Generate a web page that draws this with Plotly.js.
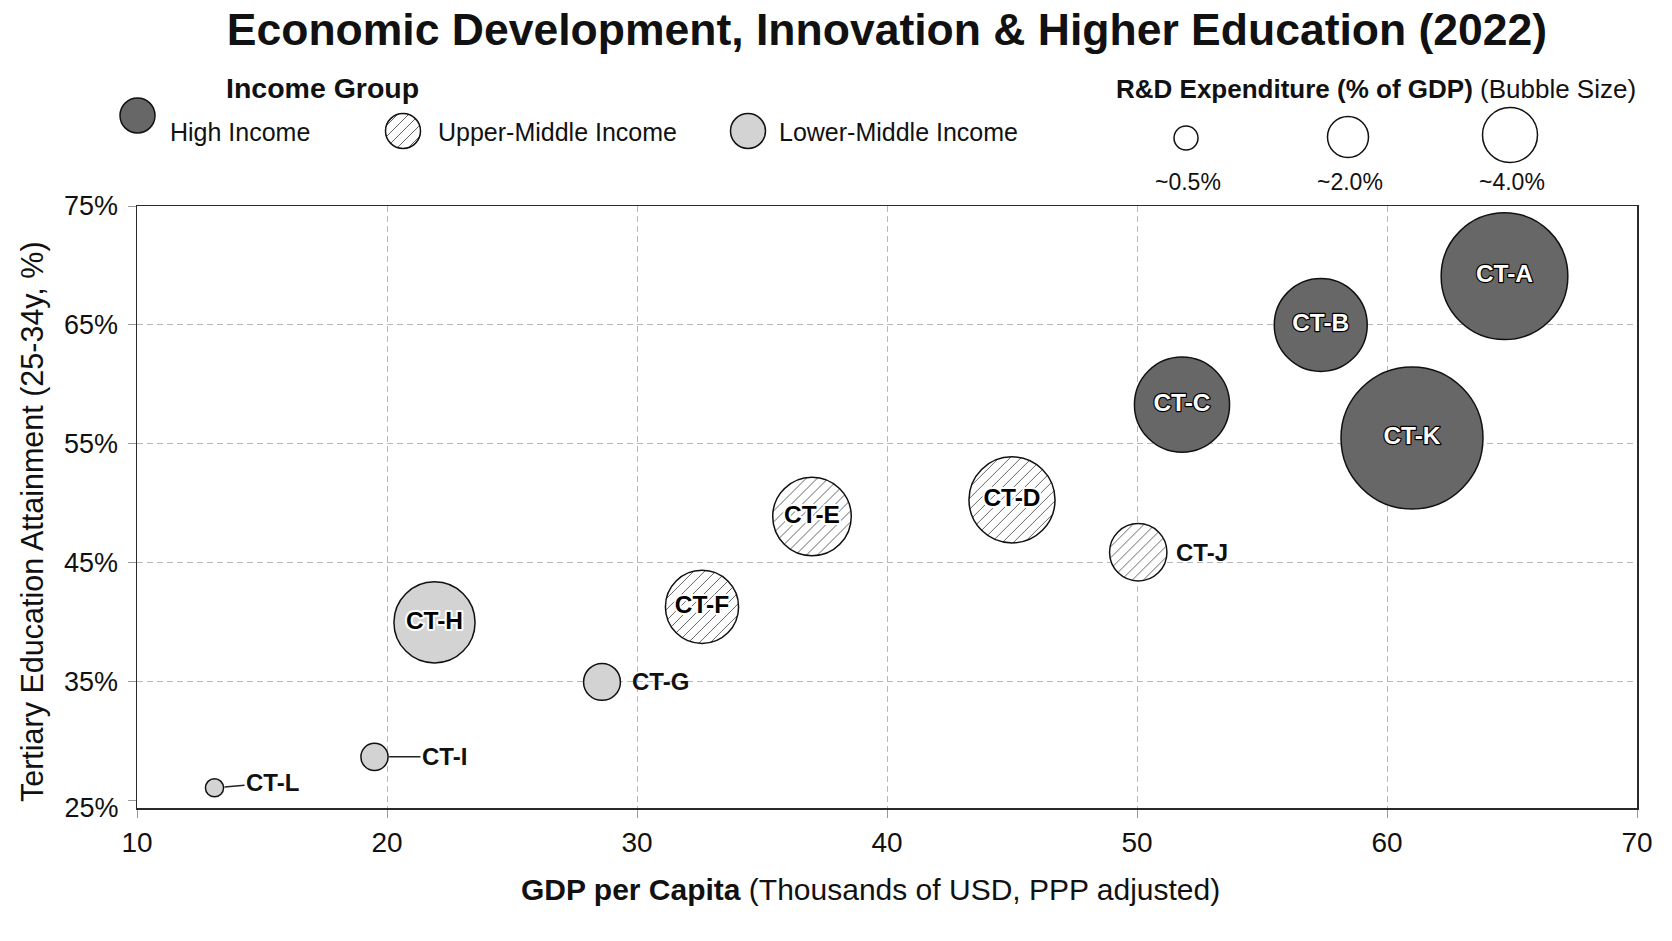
<!DOCTYPE html>
<html>
<head>
<meta charset="utf-8">
<script src="https://cdn.plot.ly/plotly-3.0.1.min.js"></script>
<style>
  html, body { margin: 0; padding: 0; background: #fff; }
  #chart { width: 1672px; height: 941px; }
</style>
</head>
<body>
<div id="chart"></div>
<script>
// ---- data ----
const countries = ["CT-A", "CT-B", "CT-C", "CT-K", "CT-D", "CT-E", "CT-J", "CT-F", "CT-H", "CT-G", "CT-I", "CT-L"];
const incomeGroup = [
  "High Income", "High Income", "High Income", "High Income",
  "Upper-Middle Income", "Upper-Middle Income", "Upper-Middle Income", "Upper-Middle Income",
  "Lower-Middle Income", "Lower-Middle Income", "Lower-Middle Income", "Lower-Middle Income",
];
const gdpPerCapita = [64.7, 57.35, 51.8, 61.0, 45.0, 37.0, 50.05, 32.6, 21.9, 28.6, 19.5, 13.1];
const tertiaryEdu = [69.1, 65.0, 58.3, 55.5, 50.3, 48.9, 45.9, 41.3, 40.0, 35.0, 28.7, 26.1];
const rdExpenditure = [3.9, 2.1, 2.2, 4.9, 1.8, 1.5, 0.8, 1.3, 1.6, 0.33, 0.18, 0.08];

const incomeGroups = ["High Income", "Upper-Middle Income", "Lower-Middle Income"];
const sizeKeyValues = [0.5, 2.0, 4.0];
const sizeKeyLabels = ["~0.5%", "~2.0%", "~4.0%"];
const xTicks = [10, 20, 30, 40, 50, 60, 70];
const yTicks = [25, 35, 45, 55, 65, 75];
const yTickText = ["25%", "35%", "45%", "55%", "65%", "75%"];

// ---- layout / style ----
const W = 1672, H = 941;
const margin = { l: 137, r: 35, t: 20, b: 133, pad: 0 };
const plotTop = 206;
const plotBottom = H - margin.b;
const areaH = H - margin.t - margin.b;
const mainTopFrac = (plotBottom - plotTop) / areaH;
const yRange = [24.4, 75];
const FONT = '"Liberation Sans", Arial, Helvetica, sans-serif';
const INK = "#111111";

const groupStyle = {
  "High Income": { fill: "#676767", hatch: false, text: "#ffffff", halo: "#000000", haloWidth: 2.4 },
  "Upper-Middle Income": { fill: "#ffffff", hatch: true, text: "#000000", halo: "#ffffff", haloWidth: 4 },
  "Lower-Middle Income": { fill: "#d3d3d3", hatch: false, text: "#000000", halo: "#ffffff", haloWidth: 4 },
};

// labels that sit beside their bubble (pixel offsets of the label centre)
const outsideLabels = {
  "CT-J": { dx: 64, dy: 0, leader: false },
  "CT-G": { dx: 58, dy: 0, leader: false },
  "CT-I": { dx: 70, dy: 0, leader: true },
  "CT-L": { dx: 58, dy: -5, leader: true },
};

// legend key placement (pixels in the legend band)
const incomeKeyX = [137.5, 403, 748];
const incomeKeyY = [115.5, 131, 131];
const incomeTextX = [168, 436, 777];
const sizeKeyX = [1186, 1348, 1510];
const sizeKeyY = [138, 137, 135];
const sizeKeyPx = [24, 41, 55];

const maxBubblePx = 142;
const sizeref = 2 * Math.max(...rdExpenditure) / (maxBubblePx * maxBubblePx);
const bubbleRadius = (v) => Math.sqrt(v / 2 / sizeref);

const pick = (arr, ids) => ids.map((i) => arr[i]);
const idsOf = (test) => countries.map((c, i) => i).filter(test);

// ---- traces ----
const data = [];

incomeGroups.forEach((g) => {
  const ids = idsOf((i) => incomeGroup[i] === g);
  data.push({
    type: "scatter",
    mode: "markers",
    name: "bubbles|" + g,
    x: pick(gdpPerCapita, ids),
    y: pick(tertiaryEdu, ids),
    marker: {
      size: pick(rdExpenditure, ids),
      sizemode: "area",
      sizeref: sizeref,
      color: groupStyle[g].fill,
      opacity: 1,
      line: { color: INK, width: 1.5 },
    },
    hoverinfo: "skip",
    showlegend: false,
  });
});

incomeGroups.forEach((g) => {
  const ids = idsOf((i) => incomeGroup[i] === g && !outsideLabels[countries[i]]);
  data.push({
    type: "scatter",
    mode: "text",
    name: "labels|" + g,
    x: pick(gdpPerCapita, ids),
    y: pick(tertiaryEdu, ids),
    text: pick(countries, ids).map((c) => "<b>" + c + "</b>"),
    textposition: "middle center",
    textfont: { family: FONT, size: 24.5, color: groupStyle[g].text },
    cliponaxis: false,
    hoverinfo: "skip",
    showlegend: false,
  });
});

// empty trace so the overlay axis that carries the bottom tick label exists
data.push({ type: "scatter", mode: "markers", name: "axis", x: [], y: [], xaxis: "x", yaxis: "y3", showlegend: false, hoverinfo: "skip" });

// legend keys
data.push({
  type: "scatter",
  mode: "markers",
  name: "incomeKey",
  xaxis: "x2",
  yaxis: "y2",
  x: incomeKeyX,
  y: incomeKeyY,
  marker: {
    size: 35,
    color: incomeGroups.map((g) => groupStyle[g].fill),
    opacity: 1,
    line: { color: INK, width: 1.5 },
  },
  cliponaxis: false,
  hoverinfo: "skip",
  showlegend: false,
});
data.push({
  type: "scatter",
  mode: "markers",
  name: "sizeKey",
  xaxis: "x2",
  yaxis: "y2",
  x: sizeKeyX,
  y: sizeKeyY,
  marker: { size: sizeKeyPx, color: "#ffffff", opacity: 1, line: { color: INK, width: 1.5 } },
  cliponaxis: false,
  hoverinfo: "skip",
  showlegend: false,
});

// ---- annotations ----
const annotations = [];

countries.forEach((c, i) => {
  const o = outsideLabels[c];
  if (!o) return;
  const a = {
    xref: "x",
    yref: "y",
    x: gdpPerCapita[i],
    y: tertiaryEdu[i],
    text: "<b>" + c + "</b>",
    font: { family: FONT, size: 24, color: INK },
  };
  if (o.leader) {
    Object.assign(a, {
      showarrow: true, arrowhead: 0, arrowwidth: 1.5, arrowcolor: "#222",
      ax: o.dx, ay: o.dy, standoff: bubbleRadius(rdExpenditure[i]) + 1,
    });
  } else {
    Object.assign(a, { showarrow: false, xshift: o.dx, yshift: -o.dy });
  }
  annotations.push(a);
});

// axis titles
annotations.push({
  xref: "paper", yref: "paper", x: 0.5, y: 0, xshift: -17, yshift: -(889 - plotBottom),
  yanchor: "middle", showarrow: false,
  text: "<b>GDP per Capita</b> (Thousands of USD, PPP adjusted)",
  font: { family: FONT, size: 30, color: INK },
});
annotations.push({
  xref: "paper", yref: "paper", x: 0, y: mainTopFrac / 2, xshift: 32 - margin.l, yshift: -15,
  xanchor: "center", yanchor: "middle", textangle: -90, showarrow: false,
  text: "Tertiary Education Attainment (25-34y, %)",
  font: { family: FONT, size: 30.5, color: INK },
});

// legends
annotations.push({
  xref: "x2", yref: "y2", x: 322, y: 88, text: "<b>Income Group</b>",
  showarrow: false, font: { family: FONT, size: 28.5, color: INK },
});
incomeGroups.forEach((g, k) => {
  annotations.push({
    xref: "x2", yref: "y2", x: incomeTextX[k], y: 132, xanchor: "left", text: g,
    showarrow: false, font: { family: FONT, size: 25, color: INK },
  });
});
annotations.push({
  xref: "x2", yref: "y2", x: 1114, y: 89, xanchor: "left",
  text: "<b>R&amp;D Expenditure (% of GDP)</b> (Bubble Size)",
  showarrow: false, font: { family: FONT, size: 26, color: INK },
});
sizeKeyLabels.forEach((t, k) => {
  annotations.push({
    xref: "x2", yref: "y2", x: sizeKeyX[k] + 2, y: 182, text: t,
    showarrow: false, font: { family: FONT, size: 23, color: INK },
  });
});

// ---- layout ----
const axisCommon = {
  showgrid: true,
  gridcolor: "#b8b8b8",
  griddash: "6px,4px",
  gridwidth: 1,
  zeroline: false,
  showline: true,
  linecolor: "#2a2a2a",
  linewidth: 1.5,
  mirror: true,
  ticks: "outside",
  ticklen: 8,
  tickwidth: 1,
  tickcolor: "#999",
  tickfont: { family: FONT, size: 28, color: INK },
  automargin: false,
  fixedrange: true,
};

const layout = {
  width: W,
  height: H,
  margin: margin,
  paper_bgcolor: "#ffffff",
  plot_bgcolor: "#ffffff",
  font: { family: FONT, color: INK },
  title: {
    text: "<b>Economic Development, Innovation &amp; Higher Education (2022)</b>",
    font: { family: FONT, size: 44.5, color: INK },
    x: 0.5,
    xref: "paper",
    xanchor: "center",
    y: 1 - 29 / H,
    yref: "container",
    yanchor: "middle",
  },
  xaxis: Object.assign({}, axisCommon, {
    domain: [0, 1],
    range: [10, 70],
    tickvals: xTicks,
    ticklabelstandoff: 1,
    anchor: "y",
  }),
  // gridded ticks above the bottom edge
  yaxis: Object.assign({}, axisCommon, {
    domain: [0, mainTopFrac],
    range: yRange,
    tickvals: yTicks.slice(1),
    ticktext: yTickText.slice(1),
    tickfont: { family: FONT, size: 27, color: INK },
    ticklabelstandoff: 4,
    anchor: "x",
  }),
  // bottom tick (no gridline, as in the reference)
  yaxis3: Object.assign({}, axisCommon, {
    overlaying: "y",
    side: "left",
    anchor: "x",
    range: yRange,
    tickvals: yTicks.slice(0, 1),
    ticktext: yTickText.slice(0, 1),
    tickfont: { family: FONT, size: 27, color: INK },
    ticklabelstandoff: 4,
    ticklabelshift: 7,
    showgrid: false,
    showline: false,
  }),
  xaxis2: { domain: [0, 1], range: [margin.l, W - margin.r], visible: false, anchor: "y2", fixedrange: true },
  yaxis2: { domain: [mainTopFrac, 1], range: [plotTop, margin.t], visible: false, anchor: "x2", fixedrange: true },
  annotations: annotations,
  hovermode: false,
  showlegend: false,
};

const config = { displayModeBar: false, staticPlot: true, responsive: false };

function addHatch(gd) {
  const ns = "http://www.w3.org/2000/svg";
  const defs = gd.querySelector(".main-svg defs");
  const pat = document.createElementNS(ns, "pattern");
  pat.setAttribute("id", "hatch");
  pat.setAttribute("patternUnits", "userSpaceOnUse");
  pat.setAttribute("width", "11");
  pat.setAttribute("height", "11");
  const bg = document.createElementNS(ns, "rect");
  bg.setAttribute("width", "11");
  bg.setAttribute("height", "11");
  bg.setAttribute("fill", "#ffffff");
  const ln = document.createElementNS(ns, "path");
  ln.setAttribute("d", "M-2,2 L2,-2 M0,11 L11,0 M9,13 L13,9");
  ln.setAttribute("stroke", "#666");
  ln.setAttribute("stroke-width", "1");
  pat.appendChild(bg);
  pat.appendChild(ln);
  defs.appendChild(pat);

  gd.querySelectorAll("g.trace.scatter").forEach((g) => {
    const cd = g.__data__;
    const tr = cd && cd[0] && cd[0].trace;
    if (!tr) return;
    const [kind, grp] = tr.name.split("|");
    if (kind === "bubbles" && groupStyle[grp].hatch) {
      g.querySelectorAll("path.point").forEach((p) => p.style.setProperty("fill", "url(#hatch)"));
    }
    if (kind === "incomeKey") {
      g.querySelectorAll("path.point").forEach((p, k) => {
        if (groupStyle[incomeGroups[k]].hatch) p.style.setProperty("fill", "url(#hatch)");
      });
    }
    if (kind === "labels") {
      const st = groupStyle[grp];
      g.querySelectorAll("text").forEach((t) => {
        t.style.stroke = st.halo;
        t.style.strokeWidth = st.haloWidth + "px";
        t.style.strokeLinejoin = "round";
        t.style.paintOrder = "stroke";
      });
    }
  });
}

Plotly.newPlot("chart", data, layout, config).then(addHatch);
</script>
</body>
</html>
